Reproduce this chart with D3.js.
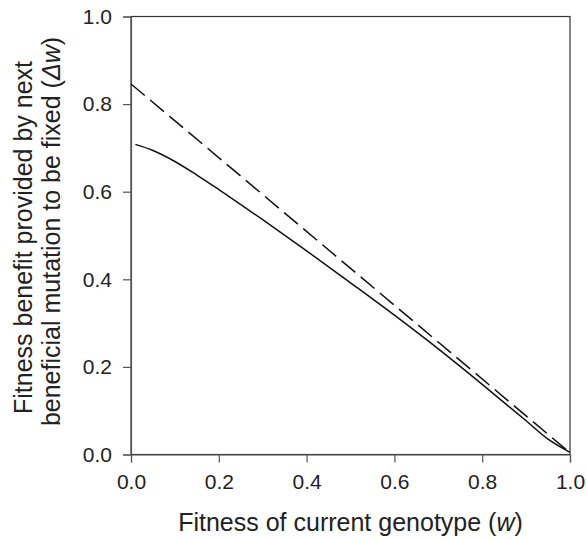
<!DOCTYPE html>
<html>
<head>
<meta charset="utf-8">
<script src="https://cdn.jsdelivr.net/npm/d3@7"></script>
<style>
  body { margin: 0; background: #fff; }
  text { font-family: "Liberation Sans", Arial, sans-serif; fill: #222; }
</style>
</head>
<body>
<div id="chart"></div>
<script>
// values
var xTicks = [0.0, 0.2, 0.4, 0.6, 0.8, 1.0];
var yTicks = [0.0, 0.2, 0.4, 0.6, 0.8, 1.0];

var solidW   = [0.01, 0.05, 0.10, 0.15, 0.20, 0.30, 0.40, 0.50, 0.60, 0.70, 0.80, 0.90, 0.95, 1.00];
var solidVal = [0.708, 0.694, 0.669, 0.638, 0.605, 0.536, 0.465, 0.392, 0.318, 0.241, 0.160, 0.077, 0.035, 0.005];

var dashW   = [0.0, 0.5, 1.0];
var dashVal = [0.846, 0.425, 0.004];

var width = 586, height = 540;
var margin = {top: 16.5, right: 16, bottom: 85.5, left: 131};
var w = width - margin.left - margin.right,
    h = height - margin.top - margin.bottom;

var svg = d3.select("#chart").append("svg")
    .attr("width", width)
    .attr("height", height);

var g = svg.append("g")
    .attr("transform", "translate(" + margin.left + "," + margin.top + ")");

var x = d3.scaleLinear().domain([0, 1]).range([0, w]);
var y = d3.scaleLinear().domain([0, 1]).range([h, 0]);

// frame (top and right)
g.append("rect")
    .attr("x", 0).attr("y", 0)
    .attr("width", w).attr("height", h)
    .attr("fill", "none")
    .attr("stroke", "#333")
    .attr("stroke-width", 1.2);

var xAxis = g.append("g")
    .attr("transform", "translate(0," + h + ")")
    .call(d3.axisBottom(x).tickValues(xTicks).tickFormat(d3.format(".1f")).tickSize(8).tickPadding(12));

var yAxis = g.append("g")
    .call(d3.axisLeft(y).tickValues(yTicks).tickFormat(d3.format(".1f")).tickSize(8).tickPadding(11));

[xAxis, yAxis].forEach(function(ax){
    ax.select(".domain").attr("stroke", "#555").attr("stroke-width", 1.2);
    ax.selectAll(".tick line").attr("stroke", "#555").attr("stroke-width", 1.2);
    ax.selectAll(".tick text")
        .style("font-family", "'Liberation Sans', Arial, sans-serif")
        .style("font-size", "21px")
        .attr("fill", "#222");
});

var line = d3.line()
    .x(function(d){ return x(d[0]); })
    .y(function(d){ return y(d[1]); });

var solidData = solidW.map(function(v, i){ return [v, solidVal[i]]; });
var dashData = dashW.map(function(v, i){ return [v, dashVal[i]]; });

g.append("path")
    .datum(dashData)
    .attr("d", line)
    .attr("fill", "none")
    .attr("stroke", "#111")
    .attr("stroke-width", 1.5)
    .attr("stroke-dasharray", "18,7");

g.append("path")
    .datum(solidData)
    .attr("d", line.curve(d3.curveMonotoneX))
    .attr("fill", "none")
    .attr("stroke", "#111")
    .attr("stroke-width", 1.5);

// x title
var xt = svg.append("text")
    .attr("x", margin.left + w / 2)
    .attr("y", 531)
    .attr("text-anchor", "middle")
    .style("font-size", "25px");
xt.append("tspan").text("Fitness of current genotype (");
xt.append("tspan").attr("font-style", "italic").text("w");
xt.append("tspan").text(")");

// y title, two lines
var cy = margin.top + h / 2;
svg.append("text")
    .attr("transform", "translate(32," + (cy + 2) + ") rotate(-90)")
    .attr("text-anchor", "middle")
    .style("font-size", "25px")
    .text("Fitness benefit provided by next");

var yt2 = svg.append("text")
    .attr("transform", "translate(60," + (cy - 4) + ") rotate(-90)")
    .attr("text-anchor", "middle")
    .style("font-size", "25px");
yt2.append("tspan").text("beneficial mutation to be fixed (");
yt2.append("tspan").attr("font-style", "italic").text("\u0394w");
yt2.append("tspan").text(")");
</script>
</body>
</html>
